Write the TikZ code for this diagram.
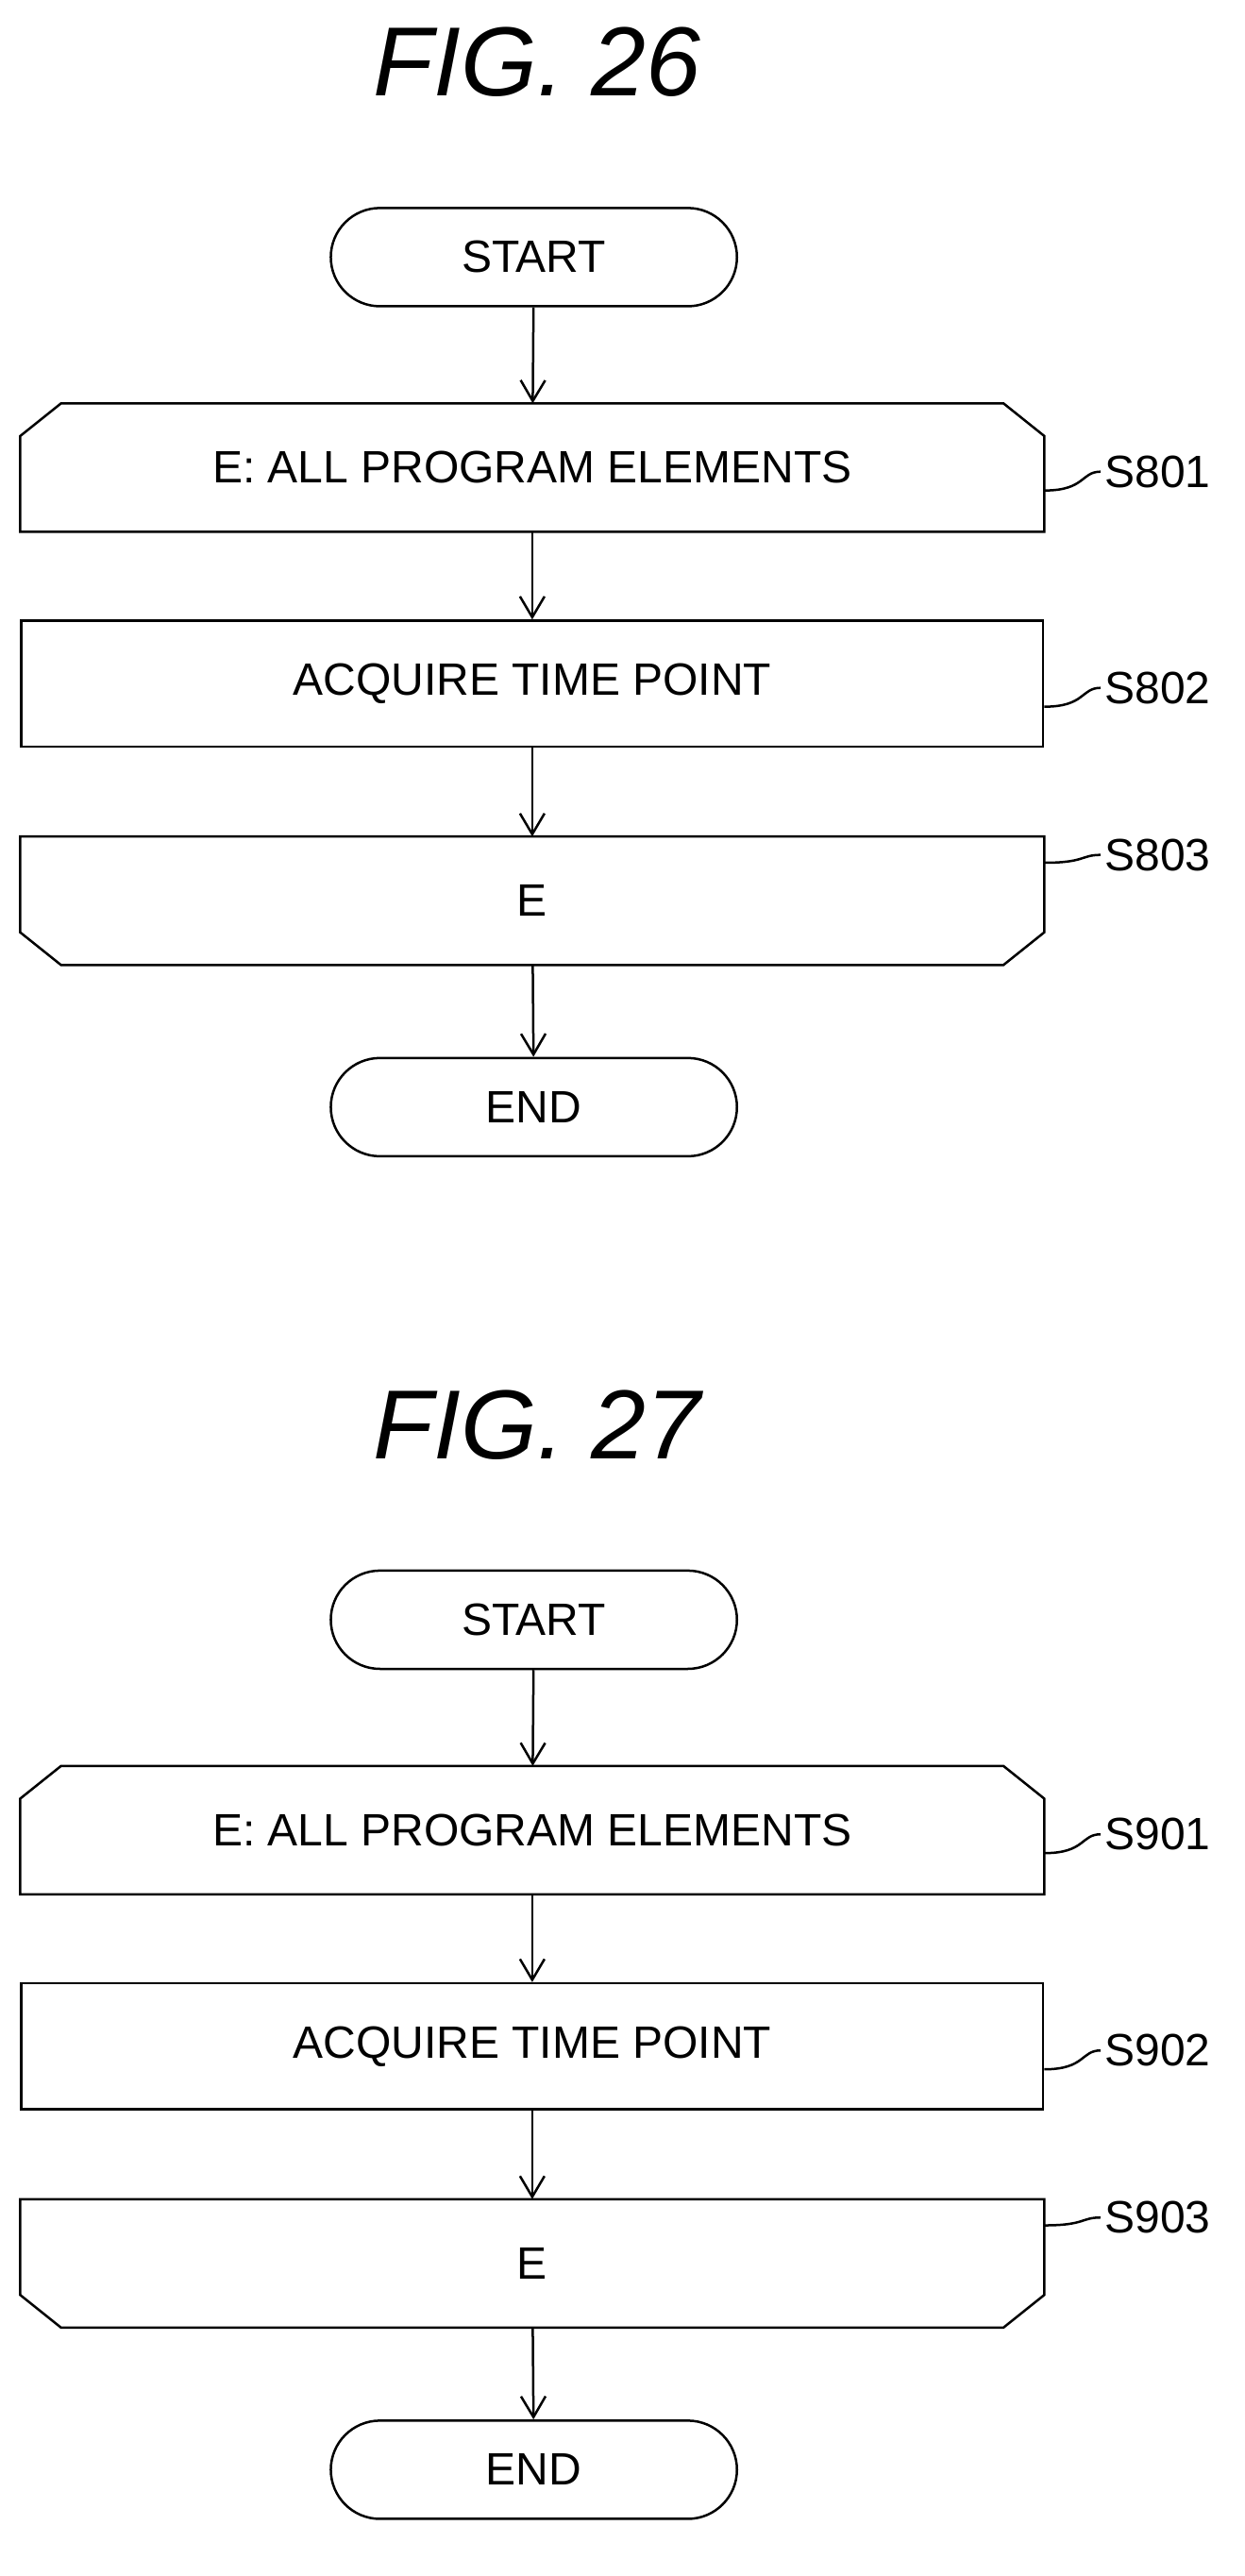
\documentclass[tikz,border=0pt]{standalone}
\usepackage{fontspec}
\setmainfont{Liberation Sans}
\usetikzlibrary{arrows.meta}
\usetikzlibrary{positioning}

\tikzset{
    procbox/.style={minimum width=624*1.735pt, minimum height=77*1.735pt, font=\fontsize{48}{56}\selectfont, inner sep=0pt},
    termbox/.style={draw, rounded corners=30*1.735pt, minimum width=248*1.735pt, minimum height=60*1.735pt, font=\fontsize{48}{56}\selectfont},
    flow/.style={-{Straight Barb[length=22pt,width=26pt]}},
    steptag/.style={font=\fontsize{48}{56}\selectfont, anchor=west},
}

\newcommand{\chart}[3]{%
    \node[termbox] (start#1) at (326, #2+157) {START};
    \node[procbox] (loopa#1) at (325, #2+285.5) {E: ALL PROGRAM ELEMENTS};
    \node[procbox, draw] (get#1) at (325, #2+417.5) {ACQUIRE TIME POINT};
    \node[procbox] (loopb#1) at (325, #2+550) {E};
    \node[termbox] (end#1) at (326, #2+676) {END};
    % loop limits
    \draw ([yshift=-20*1.735pt]loopa#1.north west) -- ([xshift=25*1.735pt]loopa#1.north west)
        -- ([xshift=-25*1.735pt]loopa#1.north east) -- ([yshift=-20*1.735pt]loopa#1.north east)
        -- (loopa#1.south east) -- (loopa#1.south west) -- cycle;
    \draw ([yshift=20*1.735pt]loopb#1.south west) -- ([xshift=25*1.735pt]loopb#1.south west)
        -- ([xshift=-25*1.735pt]loopb#1.south east) -- ([yshift=20*1.735pt]loopb#1.south east)
        -- (loopb#1.north east) -- (loopb#1.north west) -- cycle;
    % connectors
    \draw[flow] (start#1) -- (loopa#1);
    \draw[flow] (loopa#1) -- (get#1);
    \draw[flow] (get#1) -- (loopb#1);
    \draw[flow] (loopb#1) -- (end#1);
    % step labels
    \node[steptag] (ta#1) at (672, #2+288) {S#31};
    \node[steptag] (tb#1) at (672, #2+420) {S#32};
    \node[steptag] (tc#1) at (672, #2+522) {S#33};
    \draw ([yshift=-14*1.735pt]loopa#1.east) .. controls +(25,0) and +(-12,0) .. (ta#1.west);
    \draw ([yshift=-14*1.735pt]get#1.east) .. controls +(25,0) and +(-12,0) .. (tb#1.west);
    \draw ([yshift=-16*1.735pt]loopb#1.north east) .. controls +(25,0) and +(-12,0) .. (tc#1.west);
}

\begin{document}
\begin{tikzpicture}[x=1.735pt, y=-1.735pt, line width=2.5pt]
    \useasboundingbox (0,0) rectangle (760.2, 1572.9);
    \node[font=\fontsize{104}{110}\selectfont\itshape] (fig26) at (328, 38) {FIG. 26};
    \node[font=\fontsize{104}{110}\selectfont\itshape] (fig27) at (328, 870) {FIG. 27};
    \chart{a}{0}{80}
    \chart{b}{832}{90}
\end{tikzpicture}
\end{document}
